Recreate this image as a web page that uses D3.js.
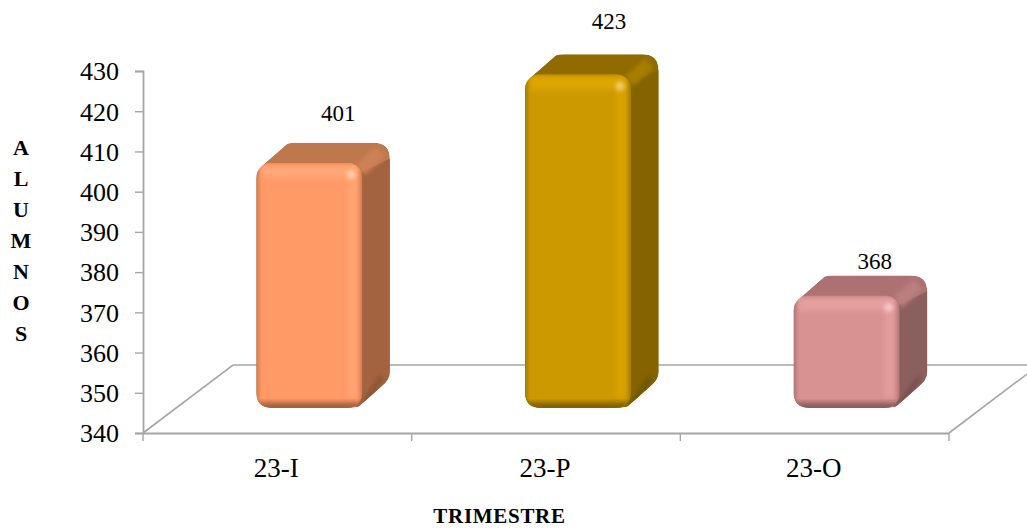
<!DOCTYPE html>
<html><head><meta charset="utf-8">
<script src="https://cdn.jsdelivr.net/npm/d3@7"></script>
<style>html,body{margin:0;background:#fff}svg{display:block}text{font-family:"Liberation Serif",serif;fill:#000}</style>
</head><body><svg id="c" width="1027" height="529"></svg>
<script>
const categories = ["23-I","23-P","23-O"];
const values = [401,423,368];
const yTicks = [340,350,360,370,380,390,400,410,420,430];
const yTitle = ["A","L","U","M","N","O","S"];
const xTitle = "TRIMESTRE";
const frontColors = ["#FF9966","#CC9900","#D89292"];
const topColors = ["#BF774E","#8F6B00","#AC7272"];
const sideColors = ["#A36340","#856400","#8C5F5F"];
const lightColors = ["#FFA878","#DFA803","#E8A0A0"];
const bevelColors = ["#CE8156","#A87E02","#BC7F7F"];
const edgeColors = ["#8A5234","#6E5300","#7A4D4D"];
const labelDx = [29,31,28];
const labelDy = [-42,-45,-26];

const svg = d3.select("#c");
const axisColor = "#A6A6A6";
const y = d3.scaleLinear().domain([340,430]).range([433,71]);
const x = d3.scaleBand().domain(categories).range([143,949]).paddingInner(0).paddingOuter(0);
const depthX = 90, depthY = 68;       // floor depth
const barW = 106, bdx = 27.5, bdy = 20; // bar width and depth
const shiftX = 32, shiftY = 25;       // bar front plane offset

const defs = svg.append("defs");
const blur = (id,s)=>defs.append("filter").attr("id",id).attr("x","-50%").attr("y","-50%").attr("width","200%").attr("height","200%")
  .append("feGaussianBlur").attr("stdDeviation",s);
blur("b3",3); blur("b2",2.2); blur("b1",1.4);

// floor
const floorBack = y(340)-depthY;
const floor = d3.line();
svg.append("path").attr("d",floor([[143,433],[143+depthX,floorBack],[1027,floorBack]]))
  .attr("fill","none").attr("stroke",axisColor).attr("stroke-width",1.6);
svg.append("path").attr("d",floor([[949,433],[1027,433-78*depthY/depthX]]))
  .attr("fill","none").attr("stroke",axisColor).attr("stroke-width",1.6);

// axes
const gy = svg.append("g").attr("transform","translate(143,0)")
  .call(d3.axisLeft(y).tickValues(yTicks).tickSize(8).tickFormat(d3.format("d")));
gy.selectAll("text").attr("font-size",26).attr("dy","0.34em").attr("x",-24);
const gx = svg.append("g").attr("transform","translate(0,433)")
  .call(d3.axisBottom(x).tickSize(0).tickPadding(0));
gx.selectAll("text").attr("font-size",27).attr("dy","0.71em").attr("y",25);
gx.selectAll(".tick text").attr("x",-1);
svg.selectAll(".domain").attr("stroke",axisColor).attr("stroke-width",1.8).attr("fill","none");
svg.selectAll(".tick line").attr("stroke",axisColor).attr("stroke-width",1.4);
gx.selectAll(".boundary").data([...categories.map(c=>x(c)),x.range()[1]]).join("line").attr("class","boundary")
  .attr("x1",d=>d).attr("x2",d=>d).attr("y1",0).attr("y2",8).attr("stroke",axisColor).attr("stroke-width",1.4);

// bars
values.forEach((v,i)=>{
  const cx = x(categories[i])+x.bandwidth()/2+shiftX;
  const L = cx-barW/2, R = cx+barW/2, T = y(v)-shiftY, B = y(340)-shiftY;
  const bR = R+bdx, bT = T-bdy;
  const sil = `M${L},${T+16} Q${L},${T+7} ${L+8},${T+1} L${L+31},${bT+1} Q${L+34},${bT} ${L+39},${bT} L${bR-16},${bT} Q${bR},${bT} ${bR},${bT+16}
    L${bR},${B-36} Q${bR},${B-28} ${bR-9},${B-21} L${R-3},${B-2} Q${R-7},${B} ${R-15},${B} L${L+15},${B} Q${L},${B} ${L},${B-15} Z`;
  const g = svg.append("g");
  g.append("clipPath").attr("id","sil"+i).append("path").attr("d",sil);
  g.append("clipPath").attr("id","fr"+i).append("rect").attr("x",L).attr("y",T).attr("width",barW).attr("height",B-T).attr("rx",15);
  const back = g.append("g").attr("clip-path",`url(#sil${i})`);
  back.append("path").attr("d",sil).attr("fill",topColors[i]);
  // side face
  back.append("path").attr("d",`M${R-6},${T+12} L${bR+4},${bT+14} L${bR+4},${B} L${R-6},${B} Z`).attr("fill",sideColors[i]);
  // bevel on the depth edge
  back.append("path").attr("d",`M${R-2},${T+7} L${bR-9},${bT+9}`).attr("stroke",bevelColors[i]).attr("stroke-width",13).attr("fill","none").attr("filter","url(#b2)");
  back.append("path").attr("d",`M${bR-8},${B-31} L${R+2},${B-5}`).attr("stroke",edgeColors[i]).attr("stroke-width",5).attr("fill","none").attr("filter","url(#b2)");
  // front face
  const fr = g.append("g").attr("clip-path",`url(#fr${i})`);
  fr.append("rect").attr("x",L).attr("y",T).attr("width",barW).attr("height",B-T).attr("fill",frontColors[i]);
  fr.append("rect").attr("x",L+5).attr("y",T+3).attr("width",barW-12).attr("height",12).attr("fill",lightColors[i]).attr("filter","url(#b3)");
  fr.append("rect").attr("x",R-15).attr("y",T+6).attr("width",9).attr("height",B-T-16).attr("fill",lightColors[i]).attr("opacity",.8).attr("filter","url(#b3)");
  fr.append("rect").attr("x",L-4).attr("y",T).attr("width",6).attr("height",B-T).attr("fill",edgeColors[i]).attr("opacity",.5).attr("filter","url(#b2)");
  fr.append("rect").attr("x",R-2).attr("y",T).attr("width",6).attr("height",B-T).attr("fill",edgeColors[i]).attr("opacity",.5).attr("filter","url(#b2)");
  fr.append("rect").attr("x",L-4).attr("y",T-3).attr("width",barW+8).attr("height",4).attr("fill",edgeColors[i]).attr("opacity",.3).attr("filter","url(#b1)");
  fr.append("rect").attr("x",L).attr("y",B-5).attr("width",barW).attr("height",8).attr("fill",edgeColors[i]).attr("filter","url(#b3)");
  fr.append("circle").attr("cx",R-11).attr("cy",T+12).attr("r",4.5).attr("fill","#fff").attr("opacity",.45).attr("filter","url(#b2)");
  // value label
  svg.append("text").attr("x",cx+labelDx[i]).attr("y",y(v)-shiftY+labelDy[i]).attr("text-anchor","middle").attr("font-size",23).text(v);
});

// titles
const titleY = d3.scaleBand().domain(yTitle).range([131.5,348.5]);
svg.selectAll(".yt").data(yTitle).join("text").attr("class","yt")
  .attr("x",21).attr("y",d=>titleY(d)+titleY.bandwidth()/2).attr("dy","0.35em").attr("text-anchor","middle")
  .attr("font-size",22).attr("font-weight","bold").text(d=>d);
svg.append("text").attr("x",499.5).attr("y",523).attr("text-anchor","middle").attr("font-size",21).attr("letter-spacing",0.7).attr("font-weight","bold").text(xTitle);
</script></body></html>
